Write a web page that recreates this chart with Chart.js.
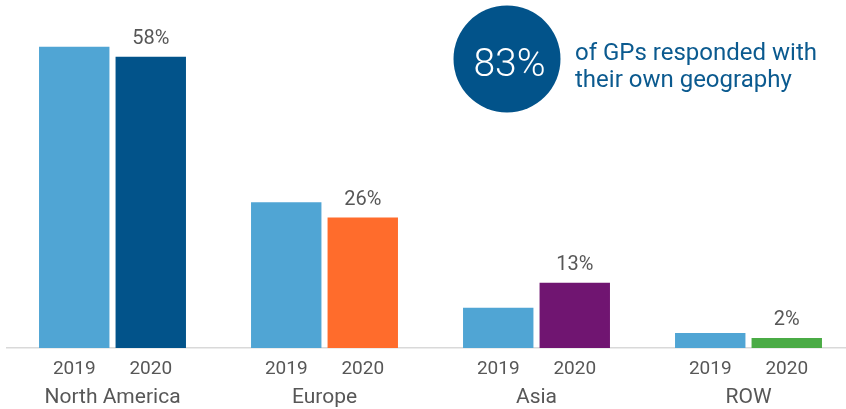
<!DOCTYPE html>
<html>
<head>
<meta charset="utf-8">
<script src="https://cdn.jsdelivr.net/npm/chart.js@4"></script>
<style>
  html, body { margin: 0; padding: 0; background: #ffffff; overflow: hidden; }
  #wrap { position: absolute; left: 0; top: 0; width: 856px; height: 409px; }
</style>
</head>
<body>
<div id="wrap"><canvas id="c" width="856" height="409"></canvas></div>
<script>
// Regions and survey years
const categories = ["North America", "Europe", "Asia", "ROW"];
const years = ["2019", "2020"];

// Share of GPs by geography (%)
const values2019 = [60, 29, 8, 3];
const values2020 = [58, 26, 13, 2];

// Callout
const calloutValue = "83%";
const calloutLines = ["of GPs responded with", "their own geography"];

const color2019 = "#50A5D4";
const colors2020 = ["#02538A", "#FF6C2C", "#701571", "#4AAB45"];
const textGray = "#575757";
const FONT = "Roboto, 'Liberation Sans', sans-serif";

// Year labels under each bar + value labels above the 2020 bars
const barLabels = {
  id: "barLabels",
  afterDatasetsDraw(chart) {
    const ctx = chart.ctx;
    const bottom = chart.chartArea.bottom;
    ctx.save();
    ctx.textAlign = "center";
    ctx.textBaseline = "alphabetic";
    chart.data.datasets.forEach((ds, di) => {
      const meta = chart.getDatasetMeta(di);
      meta.data.forEach((bar, i) => {
        ctx.fillStyle = textGray;
        ctx.font = "19px " + FONT;
        ctx.fillText(ds.label, bar.x, bottom + 25.5);
        if (di === 1) {
          ctx.font = "20px " + FONT;
          ctx.fillText(ds.data[i] + "%", bar.x, bar.y - 12.5);
        }
      });
    });
    ctx.restore();
  }
};

// Headline bubble in the upper right
const callout = {
  id: "callout",
  afterDraw(chart) {
    const ctx = chart.ctx;
    ctx.save();
    ctx.fillStyle = "#02538A";
    ctx.beginPath();
    ctx.arc(507, 59, 53.5, 0, Math.PI * 2);
    ctx.fill();
    ctx.fillStyle = "#ffffff";
    ctx.font = "300 39px " + FONT;
    ctx.textAlign = "center";
    ctx.textBaseline = "alphabetic";
    ctx.fillText(calloutValue, 509.5, 76);
    ctx.fillStyle = "#0B5A8F";
    ctx.font = "24px " + FONT;
    ctx.textAlign = "left";
    ctx.fillText(calloutLines[0], 575, 59.5);
    ctx.fillText(calloutLines[1], 575, 86.5);
    ctx.restore();
  }
};

new Chart(document.getElementById("c"), {
  type: "bar",
  data: {
    labels: categories,
    datasets: [
      { label: years[0], data: values2019, backgroundColor: color2019 },
      { label: years[1], data: values2020, backgroundColor: colors2020 }
    ]
  },
  options: {
    responsive: false,
    devicePixelRatio: 1,
    animation: false,
    categoryPercentage: 0.722,
    barPercentage: 0.92,
    layout: { padding: { left: 6.5, right: 1.5, top: 0, bottom: 0 } },
    plugins: {
      legend: { display: false },
      tooltip: { enabled: false }
    },
    scales: {
      x: {
        z: 1,
        grid: { display: false, drawTicks: false },
        border: { display: true, color: "#D9D9D9", width: 1.5 },
        ticks: {
          color: textGray,
          font: { family: FONT, size: 21 },
          padding: 37
        },
        afterFit(scale) { scale.height = 61; }
      },
      y: {
        display: false,
        min: 0,
        max: 69.3
      }
    }
  },
  plugins: [barLabels, callout]
});
</script>
</body>
</html>
